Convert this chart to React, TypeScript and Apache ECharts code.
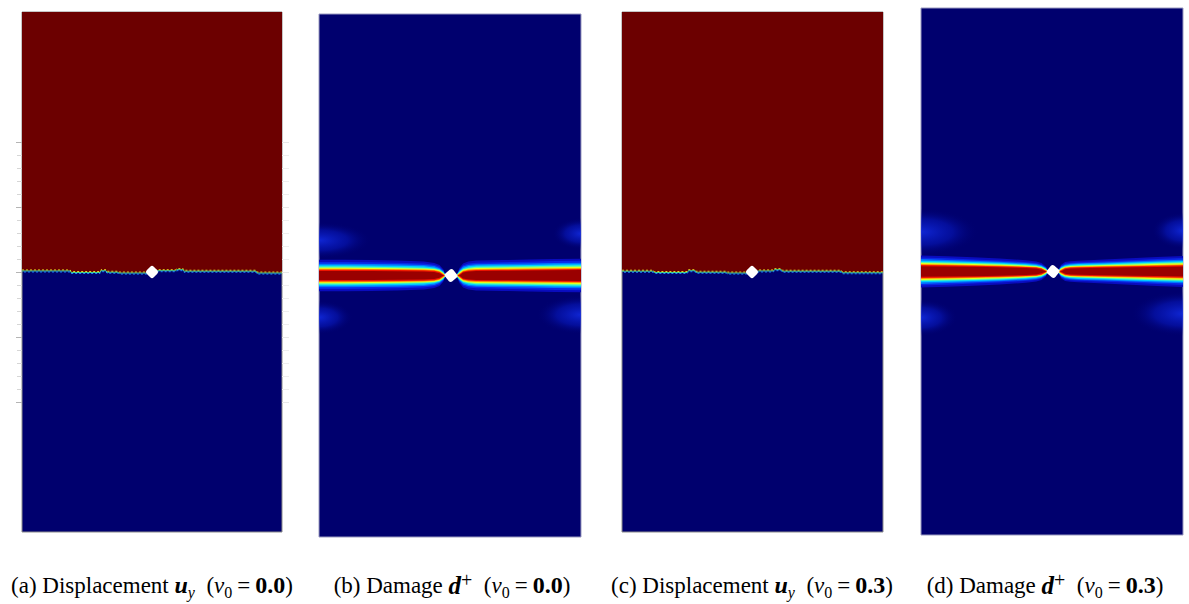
import React, { useEffect, useRef } from 'react';
import * as echarts from 'echarts';

// Plate coordinates: x 0..100 across the width, y 0..200 along the height,
// crack plane at y = 100, small hole in the middle.
const CRACK_Y = 100;

// Hole centres (plate coordinates) for panels a, b, c, d
const holeX = [50.0, 50.4, 49.8, 50.4];
const holeY = [100, 100, 100, 100];

// Displacement u_y: position of the jump between the upper (max) and lower (min) halves
const interfaceXA = [0, 18.5, 18.9, 30, 30.4, 32.3, 32.7, 37, 37.3, 48, 52.3, 59, 59.6, 62, 62.3, 90, 90.4, 100];
const interfaceYA = [100.4, 100.4, 99.8, 99.8, 100.5, 100.5, 99.9, 99.9, 99.6, 99.6, 100.5, 100.5, 100.9, 100.9, 100.3, 100.3, 99.6, 99.6];
const interfaceXC = [0, 12, 12.4, 25, 25.4, 28, 28.4, 40, 40.4, 47.5, 52.5, 58, 58.4, 61, 61.4, 84, 84.4, 100];
const interfaceYC = [100.3, 100.3, 99.8, 99.8, 100.5, 100.5, 99.9, 99.9, 99.6, 99.6, 100.4, 100.4, 100.9, 100.9, 100.3, 100.3, 99.7, 99.7];

// Damage d+ contour levels, outermost (low damage) to innermost (fully damaged)
const damageLevels = [0.05, 0.15, 0.3, 0.45, 0.55, 0.65, 0.75, 0.85, 0.95];
const levelColors = ['#0a0cbe', '#0a28e6', '#0078ff', '#00d0ff', '#60ffa0', '#e6ff1e', '#ff9600', '#f01400', '#9a0000'];

// Half-width of each damage level around the crack plane, left and right of the hole (nu0 = 0.0)
const bandXLeftB = [0, 10, 20, 30, 40, 44, 46, 47.4, 48.2];
const bandXRightB = [52.8, 53.6, 55, 57, 60, 70, 80, 90, 100];
const halfWidthLeftB = [
  [6.0, 6.0, 5.9, 5.7, 5.4, 4.8, 4.0, 2.4, 0.5],
  [5.2, 5.2, 5.1, 4.9, 4.6, 4.1, 3.4, 2.0, 0.4],
  [4.5, 4.5, 4.4, 4.3, 4.0, 3.6, 2.9, 1.7, 0.35],
  [3.9, 3.9, 3.8, 3.7, 3.5, 3.1, 2.5, 1.4, 0.3],
  [3.4, 3.4, 3.3, 3.2, 3.0, 2.7, 2.2, 1.2, 0.2],
  [3.0, 3.0, 2.9, 2.8, 2.6, 2.4, 1.9, 1.0, 0.15],
  [2.6, 2.6, 2.5, 2.5, 2.3, 2.1, 1.6, 0.7, 0.1],
  [2.2, 2.2, 2.2, 2.1, 2.0, 1.8, 1.3, 0.4, 0],
  [1.7, 1.7, 1.7, 1.6, 1.5, 1.3, 0.9, 0.1, 0],
];
const halfWidthRightB = [
  [1.0, 2.9, 4.6, 5.4, 5.7, 5.9, 6.1, 6.3, 6.4],
  [0.8, 2.4, 3.9, 4.6, 4.9, 5.1, 5.3, 5.5, 5.6],
  [0.7, 2.0, 3.4, 4.0, 4.3, 4.5, 4.6, 4.8, 4.9],
  [0.6, 1.7, 2.9, 3.5, 3.8, 3.9, 4.0, 4.2, 4.3],
  [0.5, 1.4, 2.5, 3.0, 3.3, 3.4, 3.5, 3.7, 3.8],
  [0.4, 1.1, 2.2, 2.6, 2.9, 3.0, 3.1, 3.2, 3.3],
  [0.2, 0.8, 1.8, 2.3, 2.5, 2.6, 2.7, 2.8, 2.9],
  [0, 0.5, 1.5, 1.9, 2.1, 2.2, 2.3, 2.4, 2.5],
  [0, 0.1, 1.1, 1.5, 1.7, 1.8, 1.9, 2.0, 2.1],
];

// Same for nu0 = 0.3: wider band at the plate edges, narrowing towards the hole
const bandXLeftD = [0, 10, 20, 30, 40, 44, 46, 47.6, 48.4];
const bandXRightD = [52.6, 53.5, 55, 57, 60, 70, 80, 90, 100];
const halfWidthLeftD = [
  [6.1, 5.8, 5.4, 4.9, 4.3, 3.8, 3.2, 1.9, 0.5],
  [5.3, 5.0, 4.6, 4.2, 3.6, 3.2, 2.7, 1.6, 0.4],
  [4.7, 4.4, 4.1, 3.7, 3.2, 2.8, 2.4, 1.4, 0.35],
  [4.1, 3.9, 3.6, 3.3, 2.8, 2.5, 2.1, 1.2, 0.3],
  [3.6, 3.4, 3.2, 2.9, 2.5, 2.2, 1.8, 1.0, 0.2],
  [3.2, 3.0, 2.8, 2.6, 2.2, 1.9, 1.5, 0.8, 0.15],
  [2.8, 2.7, 2.5, 2.3, 1.9, 1.7, 1.3, 0.5, 0.1],
  [2.5, 2.4, 2.2, 2.0, 1.7, 1.5, 1.1, 0.3, 0],
  [2.0, 1.9, 1.8, 1.6, 1.3, 1.1, 0.7, 0.1, 0],
];
const halfWidthRightD = [
  [1.0, 2.6, 3.6, 3.9, 4.1, 4.6, 5.0, 5.5, 5.9],
  [0.8, 2.2, 3.0, 3.3, 3.5, 3.9, 4.3, 4.7, 5.1],
  [0.7, 1.9, 2.6, 2.9, 3.1, 3.4, 3.8, 4.2, 4.5],
  [0.6, 1.6, 2.3, 2.6, 2.8, 3.0, 3.4, 3.7, 4.0],
  [0.5, 1.3, 2.0, 2.3, 2.4, 2.7, 3.0, 3.3, 3.5],
  [0.4, 1.1, 1.7, 2.0, 2.1, 2.4, 2.6, 2.9, 3.1],
  [0.2, 0.8, 1.5, 1.7, 1.9, 2.1, 2.3, 2.5, 2.7],
  [0, 0.5, 1.2, 1.5, 1.6, 1.8, 2.0, 2.2, 2.4],
  [0, 0.1, 0.9, 1.1, 1.2, 1.4, 1.6, 1.7, 1.9],
];

// Weak damage lobes at the plate edges: [x, y, rx, ry]
const lobesB = [
  [0, 113.5, 20, 7],
  [0, 84, 13, 6.5],
  [100, 116, 11, 6],
  [100, 85, 17, 7.5],
];
const lobesD = [
  [0, 115, 22, 9],
  [0, 82.5, 14, 7],
  [100, 115.5, 12, 7],
  [100, 84, 20, 8.5],
];

// Mesh ticks shown left of panel a
const tickMin = 50;
const tickMax = 150;
const tickStep = 25;

const RED = '#6c0000';
const NAVY = '#00006e';

type Box = { left: number; top: number; width: number; height: number };
const panels: Box[] = [
  { left: 22, top: 12, width: 260, height: 520 },
  { left: 319, top: 14, width: 262, height: 523 },
  { left: 622, top: 12, width: 261, height: 520 },
  { left: 921, top: 8, width: 262, height: 527 },
];

function displacementSeries(gi: number, xs: number[], ys: number[]) {
  return {
    type: 'custom',
    xAxisIndex: gi,
    yAxisIndex: gi,
    data: [[0, 0]],
    silent: true,
    z: 2,
    renderItem: (_p: any, api: any) => {
      const pts = xs.map((x, j) => api.coord([x, ys[j]]));
      const tl = api.coord([0, 200]);
      const tr = api.coord([100, 200]);
      const shift = (d: number) => pts.map((p: number[]) => [p[0], p[1] + d]);
      return {
        type: 'group',
        children: [
          { type: 'polygon', shape: { points: [tl, ...pts, tr] }, style: { fill: RED } },
          { type: 'polyline', shape: { points: shift(-1) }, style: { stroke: '#e6dc1e', lineWidth: 1, lineDash: [2, 2], fill: null } },
          { type: 'polyline', shape: { points: shift(0) }, style: { stroke: '#46d796', lineWidth: 1, fill: null } },
          { type: 'polyline', shape: { points: shift(1) }, style: { stroke: '#1e8cff', lineWidth: 1, lineDash: [2, 2], lineDashOffset: 2, fill: null } },
        ],
      };
    },
  };
}

function bandSeries(gi: number, xsL: number[], hwL: number[][], xsR: number[], hwR: number[][]) {
  const items: number[][] = [];
  damageLevels.forEach((_d, lv) => {
    items.push([lv, 0]);
    items.push([lv, 1]);
  });
  return {
    type: 'custom',
    xAxisIndex: gi,
    yAxisIndex: gi,
    data: items,
    silent: true,
    z: 3,
    renderItem: (_p: any, api: any) => {
      const lv = api.value(0);
      const side = api.value(1);
      const xs = side === 0 ? xsL : xsR;
      const hw = (side === 0 ? hwL : hwR)[lv];
      const upper = xs.map((x, j) => api.coord([x, CRACK_Y + hw[j]]));
      const lower = xs.map((x, j) => api.coord([x, CRACK_Y - hw[j]])).reverse();
      return {
        type: 'polygon',
        shape: { points: upper.concat(lower) },
        style: { fill: levelColors[lv] },
      };
    },
  };
}

function lobeSeries(gi: number, lobes: number[][]) {
  return {
    type: 'custom',
    xAxisIndex: gi,
    yAxisIndex: gi,
    data: lobes,
    clip: true,
    silent: true,
    z: 2,
    renderItem: (_p: any, api: any) => {
      const c = api.coord([api.value(0), api.value(1)]);
      const s = api.size([api.value(2), api.value(3)]);
      return {
        type: 'ellipse',
        shape: { cx: c[0], cy: c[1], rx: s[0], ry: s[1] },
        style: {
          fill: {
            type: 'radial',
            x: 0.5,
            y: 0.5,
            r: 0.5,
            colorStops: [
              { offset: 0, color: 'rgba(18,45,230,0.85)' },
              { offset: 0.55, color: 'rgba(8,28,200,0.5)' },
              { offset: 1, color: 'rgba(0,0,110,0)' },
            ],
          },
        },
      };
    },
  };
}

function holeSeries(gi: number, rot: number, size: number) {
  return {
    type: 'scatter',
    xAxisIndex: gi,
    yAxisIndex: gi,
    data: [[holeX[gi], holeY[gi]]],
    symbol: 'roundRect',
    symbolSize: size,
    symbolRotate: rot,
    itemStyle: { color: '#ffffff', opacity: 1 },
    silent: true,
    z: 5,
  };
}

const serif = '"Liberation Serif", "Times New Roman", serif';
const rich = {
  n: { fontSize: 23, fontFamily: serif, fill: '#000', lineHeight: 30 },
  u: { fontSize: 24, fontFamily: serif, fontStyle: 'italic', fontWeight: 'bold', fill: '#000', lineHeight: 30 },
  d: { fontSize: 25, fontFamily: serif, fontStyle: 'italic', fontWeight: 'bold', fill: '#000', lineHeight: 30 },
  sub: { fontSize: 16, fontFamily: serif, fontStyle: 'italic', fill: '#000', lineHeight: 16, verticalAlign: 'bottom' },
  sub0: { fontSize: 16, fontFamily: serif, fill: '#000', lineHeight: 16, verticalAlign: 'bottom' },
  sup: { fontSize: 20, fontFamily: serif, fill: '#000', lineHeight: 18, verticalAlign: 'top' },
  nu: { fontSize: 23, fontFamily: serif, fontStyle: 'italic', fill: '#000', lineHeight: 30 },
  eq: { fontSize: 23, fontFamily: serif, fill: '#000', lineHeight: 30, padding: [0, 5] },
  b: { fontSize: 24, fontFamily: serif, fontWeight: 'bold', fill: '#000', lineHeight: 30 },
};

const captions = [
  { x: 152, text: '{n|(a) Displacement }{u|u}{sub|y}{n|  (}{nu|ν}{sub0|0}{eq|=}{b|0.0}{n|)}' },
  { x: 452, text: '{n|(b) Damage }{d|d}{sup|+}{n|  (}{nu|ν}{sub0|0}{eq|=}{b|0.0}{n|)}' },
  { x: 752, text: '{n|(c) Displacement }{u|u}{sub|y}{n|  (}{nu|ν}{sub0|0}{eq|=}{b|0.3}{n|)}' },
  { x: 1045, text: '{n|(d) Damage }{d|d}{sup|+}{n|  (}{nu|ν}{sub0|0}{eq|=}{b|0.3}{n|)}' },
];

export default function App() {
  const ref = useRef<HTMLDivElement>(null);
  useEffect(() => {
    if (!ref.current) return;
    const chart = echarts.init(ref.current, undefined, { renderer: 'svg' });
    const tickGrid = { left: 22, top: 142.7, width: 260, height: 259.6, show: false };
    const option: any = {
      animation: false,
      backgroundColor: '#ffffff',
      grid: [
        ...panels.map((p, i) => ({
          ...p,
          show: true,
          backgroundColor: NAVY,
          borderColor: i % 2 === 0 ? '#8c8c8c' : '#9a9ac0',
          borderWidth: 1,
        })),
        tickGrid,
      ],
      xAxis: [0, 1, 2, 3, 4].map((gi) => ({ type: 'value', gridIndex: gi, min: 0, max: 100, show: false })),
      yAxis: [
        ...[0, 1, 2, 3].map((gi) => ({ type: 'value', gridIndex: gi, min: 0, max: 200, show: false })),
        {
          type: 'value',
          gridIndex: 4,
          min: tickMin,
          max: tickMax,
          interval: tickStep,
          position: 'left',
          axisLine: { show: false },
          axisLabel: { show: false },
          splitLine: { show: false },
          axisTick: { show: true, length: 6, lineStyle: { color: '#b4b4b4', width: 1 } },
          minorTick: { show: true, splitNumber: 5, length: 5, lineStyle: { color: '#d6d6d6', width: 1 } },
        },
        {
          type: 'value',
          gridIndex: 4,
          min: tickMin,
          max: tickMax,
          interval: tickStep,
          position: 'right',
          axisLine: { show: false },
          axisLabel: { show: false },
          splitLine: { show: false },
          axisTick: { show: true, length: 7, lineStyle: { color: '#e8e8e8', width: 1 } },
          minorTick: { show: true, splitNumber: 5, length: 7, lineStyle: { color: '#eeeeee', width: 1 } },
        },
      ],
      series: [
        displacementSeries(0, interfaceXA, interfaceYA),
        holeSeries(0, 45, 10),
        lobeSeries(1, lobesB),
        bandSeries(1, bandXLeftB, halfWidthLeftB, bandXRightB, halfWidthRightB),
        holeSeries(1, 40, 10.5),
        displacementSeries(2, interfaceXC, interfaceYC),
        holeSeries(2, 45, 10),
        lobeSeries(3, lobesD),
        bandSeries(3, bandXLeftD, halfWidthLeftD, bandXRightD, halfWidthRightD),
        holeSeries(3, 50, 10.5),
      ],
      graphic: captions.map((c) => ({
        type: 'text',
        style: {
          x: c.x,
          y: 585,
          text: c.text,
          rich,
          align: 'center',
          verticalAlign: 'middle',
        },
      })),
    };
    chart.setOption(option);
    return () => chart.dispose();
  }, []);
  return (
    <div
      ref={ref}
      style={{ position: 'fixed', left: 0, top: 0, width: 1189, height: 604, background: '#fff' }}
    />
  );
}
